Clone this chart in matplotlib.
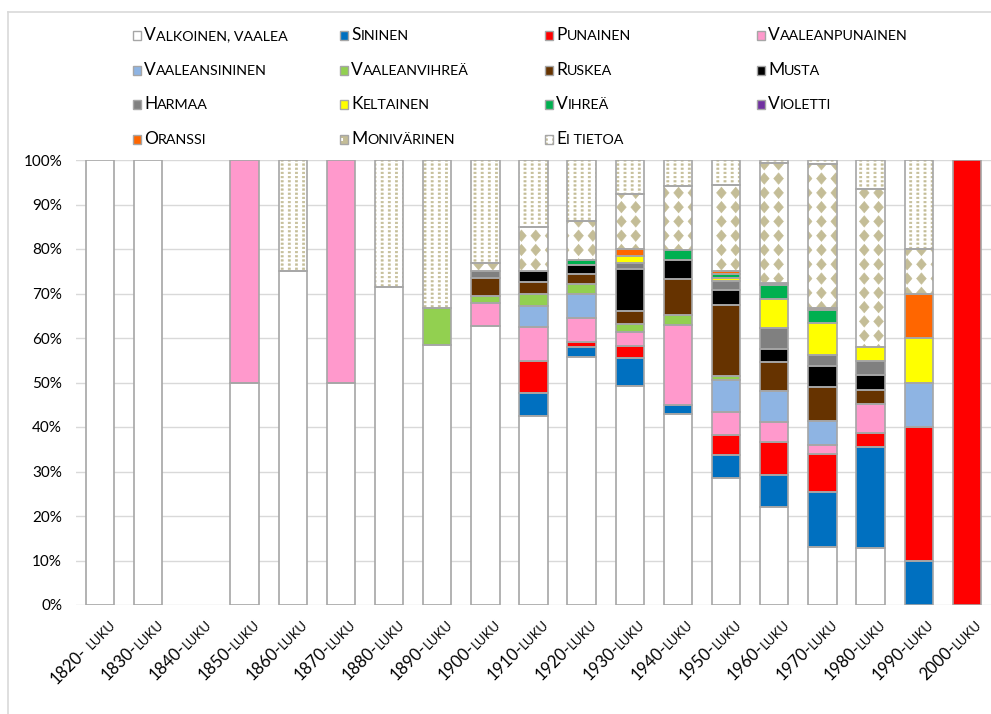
import numpy as np
import matplotlib
matplotlib.use("Agg")
import matplotlib.pyplot as plt
import matplotlib.hatch as mhatch
from matplotlib.path import Path
from matplotlib.patches import Rectangle
from matplotlib.lines import Line2D
from matplotlib.font_manager import FontProperties
from matplotlib.offsetbox import TextArea, HPacker, AnnotationBbox

# ---------------- data (percent of each decade) ----------------
decades = ["1820", "1830", "1840", "1850", "1860", "1870", "1880", "1890", "1900", "1910",
           "1920", "1930", "1940", "1950", "1960", "1970", "1980", "1990", "2000"]
tick_suffix = ["- luku"] + ["-luku"] * 18

valkoinen       = [100, 100, 0, 50, 75, 50, 71.4, 58.3, 62.7, 42.5, 55.8, 49.3, 42.9, 28.5, 22.1, 13.0, 12.9, 0, 0]
sininen         = [0, 0, 0, 0, 0, 0, 0, 0, 0, 5.2, 2.2, 6.1, 2.0, 5.1, 7.1, 12.5, 22.6, 10, 0]
punainen        = [0, 0, 0, 0, 0, 0, 0, 0, 0, 7.2, 1.2, 2.9, 0, 4.6, 7.4, 8.4, 3.2, 30, 100]
vaaleanpunainen = [0, 0, 0, 50, 0, 50, 0, 0, 5.1, 7.6, 5.2, 3.1, 18.1, 5.1, 4.6, 2.1, 6.5, 0, 0]
vaaleansininen  = [0, 0, 0, 0, 0, 0, 0, 0, 0, 4.8, 5.5, 0, 0, 7.3, 7.0, 5.3, 0, 10, 0]
vaaleanvihrea   = [0, 0, 0, 0, 0, 0, 0, 8.3, 1.7, 2.6, 2.2, 1.7, 2.2, 0.9, 0, 0, 0, 0, 0]
ruskea          = [0, 0, 0, 0, 0, 0, 0, 0, 3.9, 2.6, 2.2, 3.0, 8.1, 15.9, 6.3, 7.6, 3.2, 0, 0]
musta           = [0, 0, 0, 0, 0, 0, 0, 0, 0, 2.6, 2.1, 9.4, 4.2, 3.4, 3.0, 4.8, 3.2, 0, 0]
harmaa          = [0, 0, 0, 0, 0, 0, 0, 0, 1.7, 0, 0, 1.3, 0, 1.9, 4.7, 2.5, 3.2, 0, 0]
keltainen       = [0, 0, 0, 0, 0, 0, 0, 0, 0, 0, 0, 1.7, 0, 0.8, 6.6, 7.1, 3.2, 10, 0]
vihrea          = [0, 0, 0, 0, 0, 0, 0, 0, 0, 0, 1.1, 0, 2.3, 0.8, 3.0, 2.9, 0, 0, 0]
violetti        = [0, 0, 0, 0, 0, 0, 0, 0, 0, 0, 0, 0, 0, 0, 0.5, 0, 0, 0, 0]
oranssi         = [0, 0, 0, 0, 0, 0, 0, 0, 0, 0, 0, 1.6, 0, 0.8, 0, 0.6, 0, 10, 0]
monivarinen     = [0, 0, 0, 0, 0, 0, 0, 0, 1.7, 9.9, 8.8, 12.2, 14.3, 19.3, 27.0, 32.3, 35.5, 10, 0]
ei_tietoa       = [0, 0, 0, 0, 25, 0, 28.6, 33.3, 23.2, 15.0, 13.7, 7.7, 5.9, 5.6, 0.7, 0.9, 6.5, 20, 0]

series_names = ["Valkoinen, vaalea", "Sininen", "Punainen", "Vaaleanpunainen",
                "Vaaleansininen", "Vaaleanvihreä", "Ruskea", "Musta",
                "Harmaa", "Keltainen", "Vihreä", "Violetti",
                "Oranssi", "Monivärinen", "Ei tietoa"]
series_values = [valkoinen, sininen, punainen, vaaleanpunainen, vaaleansininen, vaaleanvihrea,
                 ruskea, musta, harmaa, keltainen, vihrea, violetti, oranssi, monivarinen, ei_tietoa]
series_colors = ["#FFFFFF", "#0070C0", "#FF0000", "#FF99CC", "#8EB4E3", "#92D050",
                 "#663300", "#000000", "#808080", "#FFFF00", "#00B050", "#7030A0",
                 "#FF6600", "#FFFFFF", "#FFFFFF"]
series_hatches = [None] * 13 + ["*", "o"]

# ---------------- custom fill patterns ----------------
class Diamonds(mhatch.HatchPatternBase):
    def __init__(self, hatch, density):
        self.n = 7 if "*" in hatch else 0
        self.num_vertices = self.n * self.n * 5

    def set_vertices_and_codes(self, vertices, codes):
        n = self.n
        hw, hh = 0.34 / n, 0.40 / n
        base = np.array([[0, hh], [hw, 0], [0, -hh], [-hw, 0], [0, hh]])
        bc = [Path.MOVETO, Path.LINETO, Path.LINETO, Path.LINETO, Path.CLOSEPOLY]
        k = 0
        for i in range(n):
            for j in range(n):
                vertices[k:k + 5] = base + [(i + 0.5) / n, (j + 0.5) / n]
                codes[k:k + 5] = bc
                k += 5


class Dots(mhatch.HatchPatternBase):
    def __init__(self, hatch, density):
        self.nx, self.ny = 14, 24
        self.num_vertices = self.nx * self.ny * 5 if "o" in hatch else 0

    def set_vertices_and_codes(self, vertices, codes):
        sx, sy = 0.011, 0.008
        base = np.array([[-sx, -sy], [sx, -sy], [sx, sy], [-sx, sy], [-sx, -sy]])
        bc = [Path.MOVETO, Path.LINETO, Path.LINETO, Path.LINETO, Path.CLOSEPOLY]
        k = 0
        for i in range(self.nx):
            for j in range(self.ny):
                vertices[k:k + 5] = base + [(i + 0.5) / self.nx, (j + 0.5) / self.ny]
                codes[k:k + 5] = bc
                k += 5


mhatch._hatch_types[:] = [t for t in mhatch._hatch_types
                          if t not in (mhatch.Stars, mhatch.SmallCircles)] + [Diamonds, Dots]

plt.rcParams["hatch.linewidth"] = 0.4
plt.rcParams["font.family"] = ["Lato", "DejaVu Sans"]

HATCH_C = "#C4BD97"
EDGE_C = "#A6A6A6"
GRID_C = "#D9D9D9"
TEXT_C = "#000000"
FAM = ["Lato", "DejaVu Sans"]
YTICK = 11
XBIG, XSMALL = 12, 9.5
LBIG, LSMALL = 12.5, 10.3

W, H = 991, 714
fig = plt.figure(figsize=(W / 100, H / 100), dpi=100)
AX_L, AX_R, AX_T, AX_B = 76, 991, 160, 605
ax = fig.add_axes([AX_L / W, (H - AX_B) / H, (AX_R - AX_L) / W, (AX_B - AX_T) / H])

n = len(decades)
x = np.arange(n)
vals = np.array(series_values, dtype=float)
tot = vals.sum(axis=0)
vals = np.where(tot > 0, vals / np.where(tot > 0, tot, 1) * 100, 0)

width = 0.59
bottom = np.zeros(n)
for name, color, hatch, v in zip(series_names, series_colors, series_hatches, vals):
    m = v > 0
    ax.bar(x[m], v[m], width, bottom=bottom[m], color=color, hatch=hatch,
           edgecolor=HATCH_C if hatch else color, linewidth=0, zorder=2)
    ax.bar(x[m], v[m], width, bottom=bottom[m], fill=False,
           edgecolor=EDGE_C, linewidth=1.2, zorder=3)
    bottom += v

ax.set_xlim(-0.5, n - 0.5)
ax.set_ylim(0, 100)
ax.set_yticks(np.arange(0, 101, 10))
ax.set_yticklabels([f"{t}%" for t in range(0, 101, 10)])
ax.set_xticks(x)
ax.set_xticklabels([])
ax.tick_params(axis="both", length=0)
ax.tick_params(axis="y", pad=10, labelsize=YTICK, labelcolor=TEXT_C)
for s in ax.spines.values():
    s.set_visible(False)
ax.yaxis.grid(True, color=GRID_C, linewidth=1.0)
ax.set_axisbelow(True)

# ---------------- x labels (small caps suffix, rotated) ----------------
renderer = fig.canvas.get_renderer()
fp_small = FontProperties(family=FAM, size=XSMALL)
step = (AX_R - AX_L) / n
c45 = np.cos(np.pi / 4)
for i, (dec, suf) in enumerate(zip(decades, tick_suffix)):
    small = suf.replace("-", "").strip().upper()
    gap = suf.startswith("- ")
    ex = AX_L + (i + 0.5) * step + 16
    ey = H - (AX_B + 20)
    wsmall, _, _ = renderer.get_text_width_height_descent(small, fp_small, ismath=False)
    if gap:
        wsp, _, _ = renderer.get_text_width_height_descent("a", fp_small, ismath=False)
        wsmall += wsp * 0.7
    fig.text(ex / W, ey / H, small, rotation=45, rotation_mode="anchor",
             ha="right", va="baseline", fontsize=XSMALL, family=FAM, color=TEXT_C)
    fig.text((ex - wsmall * c45) / W, (ey - wsmall * c45) / H, dec + "-", rotation=45,
             rotation_mode="anchor", ha="right", va="baseline", fontsize=XBIG,
             family=FAM, color=TEXT_C)

# ---------------- legend (manual, small caps) ----------------
def smallcaps(label):
    runs = []
    for ch in label:
        big = ch.isupper()
        if runs and runs[-1][1] == big:
            runs[-1][0] += ch.upper()
        else:
            runs.append([ch.upper(), big])
    areas = [TextArea(t, textprops=dict(fontsize=LBIG if b else LSMALL, family=FAM, color=TEXT_C))
             for t, b in runs]
    return HPacker(children=areas, align="baseline", pad=0, sep=0)

col_x = [133, 340, 545, 757]
row_y = [35, 70, 104, 139]
for k, (name, color, hatch) in enumerate(zip(series_names, series_colors, series_hatches)):
    r, c = divmod(k, 4)
    x0, yc = col_x[c], row_y[r]
    rect_kw = dict(transform=fig.transFigure, figure=fig)
    ry = (H - yc - 4.5) / H
    if hatch == "*":
        # multicolour swatch: tan with a white notch, as in the legend key
        fig.patches.append(Rectangle((x0 / W, ry), 8 / W, 9 / H, facecolor=HATCH_C,
                                     linewidth=0, **rect_kw))
        fig.patches.append(Rectangle(((x0 + 1) / W, ry + 3 / H), 2 / W, 3 / H, facecolor="white",
                                     linewidth=0, **rect_kw))
        fig.patches.append(Rectangle((x0 / W, ry), 8 / W, 9 / H, fill=False,
                                     edgecolor=EDGE_C, linewidth=1.0, **rect_kw))
    elif hatch:
        fig.patches.append(Rectangle((x0 / W, ry), 8 / W, 9 / H, facecolor=color,
                                     hatch=hatch, edgecolor=HATCH_C, linewidth=0, **rect_kw))
        fig.patches.append(Rectangle((x0 / W, ry), 8 / W, 9 / H, fill=False,
                                     edgecolor=EDGE_C, linewidth=1.0, **rect_kw))
    else:
        fig.patches.append(Rectangle((x0 / W, ry), 8 / W, 9 / H, facecolor=color,
                                     edgecolor=EDGE_C, linewidth=1.0, **rect_kw))
    ab = AnnotationBbox(smallcaps(name), ((x0 + 11) / W, (H - yc) / H), xycoords="figure fraction",
                        box_alignment=(0, 0.5), frameon=False, pad=0)
    fig.add_artist(ab)

# chart border
fig.add_artist(Line2D([8 / W, 8 / W], [0, (H - 12) / H], color=GRID_C, linewidth=1.2))
fig.add_artist(Line2D([8 / W, 1], [(H - 12) / H, (H - 12) / H], color=GRID_C, linewidth=1.2))

fig.savefig("out.png", dpi=100)
